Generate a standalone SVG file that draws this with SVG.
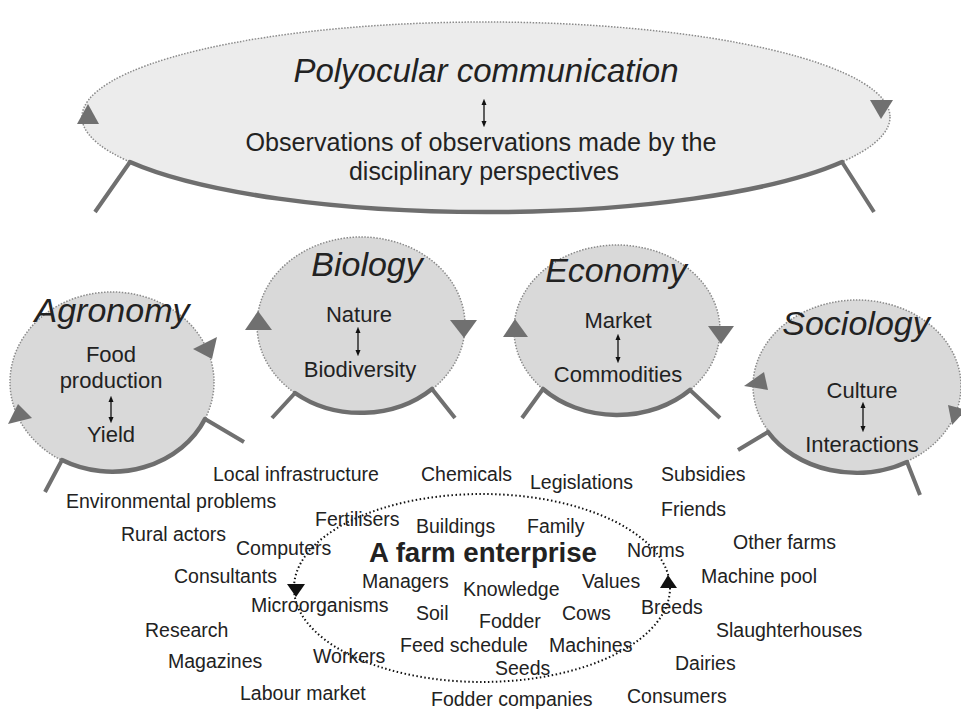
<svg xmlns="http://www.w3.org/2000/svg" width="961" height="709" viewBox="0 0 961 709">
<defs>
<marker id="ah" viewBox="0 0 10 10" refX="5" refY="5" markerWidth="5" markerHeight="5" orient="auto-start-reverse"><path d="M0,1 L10,5 L0,9 z" fill="#111"/></marker>
<style>
text{font-family:"Liberation Sans",Arial,sans-serif;fill:#222}
.big{font-size:33px;font-style:italic}
.title{font-size:34px;font-style:italic;text-anchor:middle}
.in{font-size:22px;text-anchor:middle}
.obs{font-size:25px;text-anchor:middle}
.w{font-size:19.5px}
.farm{font-size:27px;font-weight:bold}
.disc{fill:#d9d9d9;stroke:#8a8a8a;stroke-width:1.5;stroke-dasharray:1.5 1.5}
.thick{fill:none;stroke:#6e6e6e;stroke-width:4.5;stroke-linecap:round}
.leg{fill:none;stroke:#707070;stroke-width:4}
.tri{fill:#707070}
.dbl{stroke:#111;stroke-width:1.3;marker-start:url(#ah);marker-end:url(#ah)}
</style>
</defs>
<rect width="961" height="709" fill="#fff"/>

<g id="polyocular">
<ellipse cx="486" cy="117" rx="404" ry="95" fill="#ececec" stroke="#8a8a8a" stroke-width="1.5" stroke-dasharray="1.5 1.5"/>
<path class="thick" d="M130,162 A404,95 0 0 0 842,162"/>
<path class="leg" d="M130,162 L95,212 M842,162 L874,212"/>
<polygon class="tri" points="77,124 88,104 99,124"/>
<polygon class="tri" points="870,100 893,100 881,119"/>
<text class="big" x="486" y="82" text-anchor="middle">Polyocular communication</text>
<line class="dbl" x1="484" y1="102" x2="484" y2="124"/>
<text class="obs" x="481" y="151" textLength="471" lengthAdjust="spacingAndGlyphs">Observations of observations made by the</text>
<text class="obs" x="484" y="180" textLength="270" lengthAdjust="spacingAndGlyphs">disciplinary perspectives</text>
</g>

<g id="agronomy">
<ellipse class="disc" cx="112" cy="382" rx="102" ry="90"/>
<path class="thick" d="M62,460 A102,90 0 0 0 205,419"/>
<path class="leg" d="M62,460 L45,492 M205,419 L244,442"/>
<polygon class="tri" points="8,424 18,404 32,418"/>
<polygon class="tri" points="193,349 217,337 212,359"/>
<text class="title" x="112" y="322">Agronomy</text>
<text class="in" x="111" y="362">Food</text>
<text class="in" x="111" y="388">production</text>
<line class="dbl" x1="111" y1="399" x2="111" y2="420"/>
<text class="in" x="111" y="442">Yield</text>
</g>

<g id="biology">
<ellipse class="disc" cx="361" cy="325" rx="104" ry="88"/>
<path class="thick" d="M295,393 A104,88 0 0 0 432,389"/>
<path class="leg" d="M295,393 L272,418 M432,389 L455,418"/>
<polygon class="tri" points="245,330 258,311 272,330"/>
<polygon class="tri" points="450,320 477,320 464,338"/>
<text class="title" x="367" y="276">Biology</text>
<text class="in" x="359" y="322">Nature</text>
<line class="dbl" x1="358" y1="330" x2="358" y2="353"/>
<text class="in" x="360" y="377">Biodiversity</text>
</g>

<g id="economy">
<ellipse class="disc" cx="617" cy="330" rx="103" ry="85"/>
<path class="thick" d="M543,389 A103,85 0 0 0 690,390"/>
<path class="leg" d="M543,389 L522,418 M690,390 L720,418"/>
<polygon class="tri" points="503,337 515,319 528,337"/>
<polygon class="tri" points="708,326 734,326 721,344"/>
<text class="title" x="616" y="282">Economy</text>
<text class="in" x="618" y="328">Market</text>
<line class="dbl" x1="618" y1="337" x2="618" y2="360"/>
<text class="in" x="618" y="382">Commodities</text>
</g>

<g id="sociology">
<ellipse class="disc" cx="857" cy="386" rx="104" ry="86"/>
<path class="thick" d="M768,432 A104,86 0 0 0 907,462"/>
<path class="leg" d="M768,432 L738,450 M907,462 L920,495"/>
<polygon class="tri" points="744,386 764,372 768,390"/>
<polygon class="tri" points="948,405 966,410 952,425"/>
<text class="title" x="856" y="335">Sociology</text>
<text class="in" x="862" y="398">Culture</text>
<line class="dbl" x1="863" y1="405" x2="863" y2="429"/>
<text class="in" x="862" y="452">Interactions</text>
</g>

<g id="farm">
<ellipse cx="482" cy="588" rx="188" ry="94" fill="none" stroke="#111" stroke-width="2" stroke-dasharray="1.5 2.5"/>
<polygon points="287,584 305,584 296,597" fill="#111"/>
<polygon points="660,588 677,588 668,575" fill="#111"/>
<text class="farm" x="369" y="562" textLength="228" lengthAdjust="spacingAndGlyphs">A farm enterprise</text>
</g>

<g id="connectors"></g>

<g id="words">
<text class="w" x="213" y="481">Local infrastructure</text>
<text class="w" x="421" y="481">Chemicals</text>
<text class="w" x="530" y="489">Legislations</text>
<text class="w" x="661" y="481">Subsidies</text>
<text class="w" x="66" y="508">Environmental problems</text>
<text class="w" x="315" y="526">Fertilisers</text>
<text class="w" x="416" y="533">Buildings</text>
<text class="w" x="527" y="533">Family</text>
<text class="w" x="661" y="516">Friends</text>
<text class="w" x="121" y="541">Rural actors</text>
<text class="w" x="236" y="555">Computers</text>
<text class="w" x="627" y="557">Norms</text>
<text class="w" x="733" y="549">Other farms</text>
<text class="w" x="174" y="583">Consultants</text>
<text class="w" x="362" y="588">Managers</text>
<text class="w" x="463" y="596">Knowledge</text>
<text class="w" x="582" y="588">Values</text>
<text class="w" x="701" y="583">Machine pool</text>
<text class="w" x="251" y="612">Microorganisms</text>
<text class="w" x="416" y="620">Soil</text>
<text class="w" x="479" y="628">Fodder</text>
<text class="w" x="562" y="620">Cows</text>
<text class="w" x="641" y="614">Breeds</text>
<text class="w" x="145" y="637">Research</text>
<text class="w" x="716" y="637">Slaughterhouses</text>
<text class="w" x="400" y="652">Feed schedule</text>
<text class="w" x="549" y="652">Machines</text>
<text class="w" x="313" y="663">Workers</text>
<text class="w" x="168" y="668">Magazines</text>
<text class="w" x="495" y="675">Seeds</text>
<text class="w" x="675" y="670">Dairies</text>
<text class="w" x="240" y="700">Labour market</text>
<text class="w" x="431" y="706">Fodder companies</text>
<text class="w" x="627" y="703">Consumers</text>
</g>
</svg>
